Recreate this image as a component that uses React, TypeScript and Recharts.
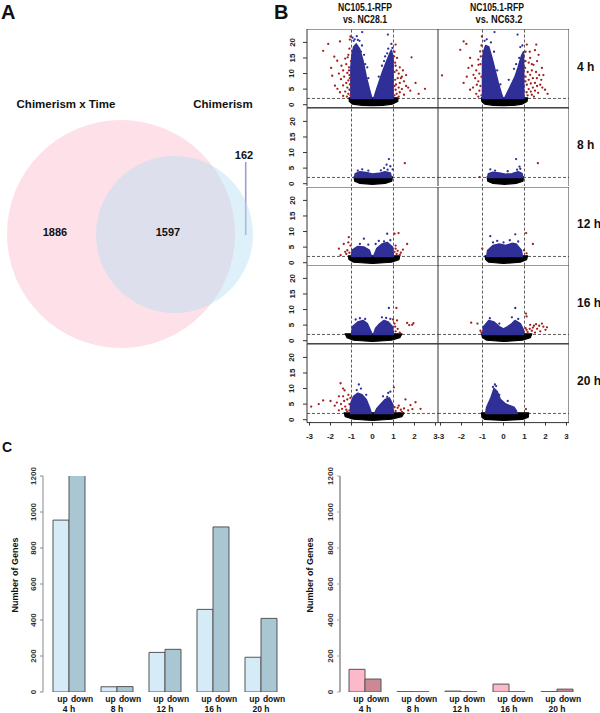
import React from 'react';
import { ScatterChart, Scatter, XAxis, YAxis, ReferenceLine, ReferenceArea, BarChart, Bar } from 'recharts';

const FONT = '"Liberation Sans", Arial, Helvetica, sans-serif';

// ---------- Panel A: Venn ----------
const vennSets = ['Chimerism x Time', 'Chimerism'];
const vennCenterX = [121, 174.5];
const vennCenterY = [234, 234.5];
const vennRadius = [114, 78.5];
const vennCounts = ['1886', '1597', '162'];

// ---------- Panel C: bars ----------
const timePoints = ['4 h', '8 h', '12 h', '16 h', '20 h'];
const leftUp = [955, 29, 220, 459, 193];
const leftDown = [1205, 30, 237, 917, 409];
const rightUp = [126, 2, 5, 44, 2];
const rightDown = [72, 1, 1, 1, 16];
const barTicks = [0, 200, 400, 600, 800, 1000, 1200];

// ---------- Panel B: volcano plots ----------
const rowLabels = ['4 h', '8 h', '12 h', '16 h', '20 h'];
const colTitles = [['NC105.1-RFP', 'vs. NC28.1'], ['NC105.1-RFP', 'vs. NC63.2']];
const xTicks = [-3, -2, -1, 0, 1, 2, 3];
const yTicks = [0, 5, 10, 15, 20];
const foldCut = [-1, 1];
const pCut = 2;

type P = [number, number];

const v4aBlack: P[] = [[-1.12,2.2],[1.22,2.2],[1.2,1.0],[0.95,0.2],[0.5,-0.2],[0,-0.3],[-0.5,-0.2],[-0.95,0.2],[-1.1,1.0]];
const v4aBlueL: P[] = [[-1.03,2],[-1.03,12],[-0.98,16],[-0.9,18.5],[-0.78,19.5],[-0.62,18],[-0.45,14],[-0.3,9],[-0.15,5],[-0.03,2]];
const v4aBlueR: P[] = [[0.06,2],[0.2,5],[0.35,8],[0.5,11],[0.65,13.5],[0.8,16],[0.9,17.5],[0.98,15],[0.98,2]];
const v4aBlueDots: P[] = [[-0.85,21],[-0.75,22],[-0.49,23.3],[-0.62,20.5],[-0.9,20.5],[-0.95,21.5],[-0.7,20.8],[-0.5,19],[0.73,22.5],[0.9,19.5],[0.75,18],[0.95,18.2],[-0.4,16],[-0.25,12],[0.55,14],[0.7,16.5],[-0.35,13],[-0.2,8.5],[0.3,9],[0.45,12.5],[0.6,15.5],[-0.55,17]];
const v4aRed: P[] = [[-2.35,17.3],[-2.11,19.5],[-1.55,20.3],[-1.82,15.4],[-1.68,14.1],[-1.97,11.8],[-1.48,12.5],[-1.92,9.3],[-1.79,6.1],[-1.67,5.1],[-1.05,21.9],[-1.08,20.9],[-1.1,18],[-1.15,16],[-1.3,14.8],[-1.25,13],[-1.12,12],[-1.4,11],[-1.2,10.2],[-1.1,9.5],[-1.35,9],[-1.5,8.2],[-1.15,7.8],[-1.25,7],[-1.08,6.5],[-1.4,6.2],[-1.2,5.5],[-1.1,4.8],[-1.3,4.2],[-1.55,4],[-1.15,3.5],[-1.05,3],[-1.22,2.6],[-1.4,2.8],[-1.08,8.5],[-1.12,11],[-1.6,10],[-1.03,14],[-1.18,15.2],
  [1.1,19.3],[1.17,15],[1.86,15.2],[2.05,7],[2.5,5.1],[1.3,12],[1.05,17],[1.08,13.5],[1.15,11],[1.25,10],[1.05,10.5],[1.4,9],[1.2,8.5],[1.08,8],[1.5,7.5],[1.3,7],[1.12,6.5],[1.05,6],[1.6,6],[1.25,5.5],[1.4,5],[1.1,4.8],[1.8,4.5],[1.3,4],[1.15,3.5],[1.5,3.2],[1.05,3],[1.25,2.6],[2.2,3.5],[1.7,5.5],[1.35,8.5],[1.6,9.5],[1.45,11],[1.1,12.5],[1.03,15.5]];

const v4bBlack: P[] = [[-1.05,2.2],[1.15,2.2],[1.12,1.0],[0.9,0.2],[0.5,-0.2],[0,-0.3],[-0.5,-0.2],[-0.9,0.2],[-1.03,1.0]];
const v4bBlueL: P[] = [[-1,2],[-1,14],[-0.95,17],[-0.85,19],[-0.7,18.5],[-0.55,15],[-0.4,11],[-0.25,7],[-0.1,3.5],[-0.02,2]];
const v4bBlueR: P[] = [[0.05,2],[0.3,5.5],[0.55,9],[0.7,12],[0.85,15.5],[0.95,17],[0.97,2]];
const v4bBlueDots: P[] = [[-0.43,23.3],[-0.8,21],[-0.9,20.5],[-0.6,20],[0.67,22.5],[0.8,18.5],[0.9,19],[-0.45,17],[0.6,13],[-0.3,11],[-0.15,6.5],[0.25,8],[0.5,11.5],[0.75,15]];
const v4bRed: P[] = [[-2.93,9.4],[-1.9,20.3],[-1.77,19.5],[-2.06,17.6],[-1.59,15],[-1.67,11.8],[-1.43,9.6],[-1.9,7],[-1.59,4.8],[-1.27,6.4],[-1.19,12.8],[-1.11,17.1],[-1.03,21.9],[-1.05,19],[-1.2,14.5],[-1.1,13],[-1.3,11],[-1.15,10],[-1.05,9],[-1.35,8.5],[-1.2,7.5],[-1.1,6],[-1.45,5.5],[-1.15,4.5],[-1.3,3.5],[-1.05,3],[-1.2,2.6],[-1.75,9],[-1.5,12.5],[-1.08,15.5],
  [1.11,19.3],[1.56,19.3],[1.67,16],[1.27,15],[1.43,12.8],[1.83,11.8],[1.27,9.6],[1.59,8.5],[1.98,4.8],[1.75,6.4],[1.11,6.4],[1.03,11.8],[1.35,3.2],[1.05,17],[1.5,17.5],[1.2,13.5],[1.6,14],[1.05,14],[1.35,11],[1.15,10.5],[1.55,10.5],[1.7,9.5],[1.05,9],[1.4,8.5],[1.2,8],[1.8,8],[1.5,7],[1.3,6.8],[1.05,7.5],[1.6,6],[1.4,5.5],[1.2,5],[1.85,5.5],[1.5,4.5],[1.1,4],[1.3,4.2],[1.65,3.8],[1.15,3],[1.45,2.6],[2.1,3.5],[1.9,9.5],[1.35,13],[1.25,17]];

const v8aBlack: P[] = [[-0.88,2.2],[0.95,2.2],[0.92,0.8],[0.6,0.1],[0,-0.2],[-0.6,0.1],[-0.85,0.8]];
const v8aBlue: P[] = [[-0.85,2],[-0.82,3.2],[-0.6,3.8],[-0.3,3.6],[0,3.1],[0.3,3.3],[0.6,3.8],[0.85,3.4],[0.9,2]];
const v8aBlueDots: P[] = [[0.78,7.9],[0.67,6.1],[0.96,4.6],[0.55,5],[-0.49,4.6],[-0.7,4.2],[0.85,5.6],[0.4,4.3],[-0.2,4.2],[0.72,4.5]];
const v8aRed: P[] = [[1.54,6.6]];

const v8bBlack: P[] = [[-0.78,2.2],[0.95,2.2],[0.93,0.8],[0.6,0.1],[0.05,-0.2],[-0.5,0.1],[-0.75,0.8]];
const v8bBlue: P[] = [[-0.75,2],[-0.72,3.2],[-0.5,3.7],[-0.2,3.4],[0.1,3.0],[0.4,3.2],[0.7,3.8],[0.88,3.3],[0.92,2]];
const v8bBlueDots: P[] = [[0.6,7.9],[0.76,5.5],[0.8,4.8],[-0.63,4.6],[-0.4,4.2],[0.65,4.5],[0.2,4]];
const v8bRed: P[] = [[1.64,6.6],[-1.14,2.1]];

const v12aBlack: P[] = [[-1.15,2.2],[1.3,2.2],[1.26,1],[0.9,0.15],[0,-0.25],[-0.9,0.15],[-1.12,1]];
const v12aBlueL: P[] = [[-1,2],[-0.97,4],[-0.7,5.2],[-0.4,5],[-0.15,4],[-0.05,2]];
const v12aBlueR: P[] = [[0.05,2],[0.2,4.5],[0.45,6],[0.7,6.5],[0.95,5],[1,2]];
const v12aBlueDots: P[] = [[-0.41,7.7],[0.7,9.3],[0.55,6.8],[0.3,7],[-0.6,6],[0.85,7.2],[-0.2,5.8],[0.15,6]];
const v12aRed: P[] = [[-1.6,4.5],[-1.52,2.4],[-1.37,6],[-1.13,8.2],[-1.2,4],[-1.1,3.2],[-1.25,2.8],[-1.05,5.5],[-1.15,6.5],[-1.3,3.5],[1.05,9.3],[1.24,9.5],[1.65,6],[1.1,4.5],[1.2,3.8],[1.35,3.2],[1.15,2.8],[1.3,2.5],[1.05,3.5],[1.45,4.2],[1.1,5.5]];

const v12bBlack: P[] = [[-0.88,2.2],[1.15,2.2],[1.1,1],[0.8,0.15],[0,-0.25],[-0.7,0.15],[-0.85,1]];
const v12bBlue: P[] = [[-0.8,2],[-0.75,4],[-0.5,5.5],[-0.2,6],[0.1,5.5],[0.4,6.2],[0.6,6],[0.85,4],[0.9,2]];
const v12bBlueDots: P[] = [[-0.63,8.5],[0.56,9.1],[-0.3,7],[0.3,7.2],[0.7,6.8],[-0.5,6.5],[0,6.5]];
const v12bRed: P[] = [[1.08,9.5],[1.4,6],[0.98,4],[-1.01,4.5],[1.1,3]];

const v16aBlack: P[] = [[-1.3,2.2],[1.4,2.2],[1.3,1],[0.9,0.15],[0,-0.25],[-0.9,0.15],[-1.22,1]];
const v16aBlueL: P[] = [[-1,2],[-0.95,4.5],[-0.7,6],[-0.45,6.5],[-0.25,5.5],[-0.08,3],[-0.03,2]];
const v16aBlueR: P[] = [[0.05,2],[0.15,4],[0.35,5.5],[0.55,6.5],[0.75,6],[0.95,4.5],[1,2]];
const v16aBlueDots: P[] = [[0.78,10.5],[0.45,7.5],[-0.6,7.2],[-0.35,7],[0.65,7.3],[0.85,7],[-0.8,6.8]];
const v16aRed: P[] = [[1.14,10.5],[0.98,6.8],[1.17,6.5],[1.65,5.7],[1.75,5],[1.89,5.1],[1.95,5.6],[1.08,4.5],[1.2,3.8],[1.1,3],[1.3,2.6],[1.05,5.5]];

const v16bBlack: P[] = [[-1.05,2.2],[1.35,2.2],[1.28,1],[0.9,0.15],[0,-0.25],[-0.8,0.15],[-1.0,1]];
const v16bBlue: P[] = [[-1,2],[-0.95,4.5],[-0.7,6.5],[-0.45,6],[-0.2,4.5],[0,3.8],[0.2,4.5],[0.4,5.5],[0.55,6.5],[0.8,5.5],[0.95,3.5],[0.95,2]];
const v16bBlueDots: P[] = [[0.56,10.5],[0.4,7.5],[-0.65,7.2],[0.7,7],[-0.2,5.5]];
const v16bRed: P[] = [[1.07,8.7],[1.1,7.8],[1.27,5.1],[1.45,4.8],[1.83,5.5],[1.9,4.5],[2.07,4.3],[1.6,3.8],[1.35,3.2],[1.15,2.8],[1.5,2.6],[1.05,4],[1.7,4.8],[1.25,3.8],[1.55,5.3],[2.0,3.5],[1.1,3.5],[1.4,4.2],[1.75,3],[-1.54,5.8],[-1.24,5.5],[-1.1,3.2],[-1.05,2.6]];

const v20aBlack: P[] = [[-1.35,2.2],[1.5,2.2],[1.4,1],[0.9,0.15],[0,-0.25],[-0.9,0.15],[-1.3,1]];
const v20aBlueL: P[] = [[-1.05,2],[-1.05,5],[-0.9,7.5],[-0.7,8.5],[-0.5,8],[-0.3,6.5],[-0.15,4],[-0.05,2]];
const v20aBlueR: P[] = [[0.1,2],[0.2,3.5],[0.4,5],[0.6,6.5],[0.8,7],[0.95,5],[1,2]];
const v20aBlueDots: P[] = [[-0.65,11.3],[0.7,7.3],[0.75,8.6],[-0.55,10],[-0.75,9.5],[0.5,7.5],[-0.3,8],[0.85,9]];
const v20aRed: P[] = [[-1.52,11.7],[-1.4,10],[-1.33,9.4],[-1.6,7.5],[-2,6],[-2.35,6.2],[-2.56,5],[-2.92,4.2],[-1.7,5.5],[-1.5,5],[-1.3,4.2],[-1.2,6.5],[-1.15,8],[-1.1,5],[-1.35,6],[-1.25,3.2],[-1.1,3],[-1.45,3.5],[-1.8,4.5],[-1.2,2.6],[-1.05,7],[-1.4,7.5],[-1.6,3],
  [1.02,10.4],[1.81,4.7],[2.05,5.6],[2.29,3.5],[1.57,6.5],[1.2,3.8],[1.35,3.2],[1.1,2.8],[1.5,3.6],[1.7,3],[1.25,4.5],[1.05,4],[1.9,3.4],[1.4,2.5]];

const v20bBlack: P[] = [[-1.05,2.2],[1.2,2.2],[1.18,0.8],[0.9,0.1],[0,-0.25],[-0.9,0.1],[-1.03,0.8]];
const v20bBlue: P[] = [[-0.85,2],[-0.8,4],[-0.6,7],[-0.45,10],[-0.3,9],[-0.15,6.5],[0.1,5],[0.3,4.5],[0.5,4],[0.6,3],[0.65,2]];
const v20bBlueDots: P[] = [[-0.41,11.3],[-0.35,10.8],[-0.5,10.5],[-0.2,8],[0.2,6]];
const v20bRed: P[] = [[1.07,3.4]];

// ---------- layout / styles ----------
const PW = 131;
const PH = 78.6;
const GRID_LEFT = 306.8;
const GRID_TOP = 29.3;
const X_DOMAIN: [number, number] = [-3.12, 3.12];
const Y_DOMAIN: [number, number] = [-0.93, 24.3];
const BLUE = '#2f2f97';
const RED = '#a3201d';
const BLACK = '#000000';

const toPts = (a: P[]) => a.map(([x, y]) => ({ x, y }));

const panels = [
  { row: 0, col: 0, black: v4aBlack, blue: [v4aBlueL, v4aBlueR], dots: v4aBlueDots, red: v4aRed },
  { row: 0, col: 1, black: v4bBlack, blue: [v4bBlueL, v4bBlueR], dots: v4bBlueDots, red: v4bRed },
  { row: 1, col: 0, black: v8aBlack, blue: [v8aBlue], dots: v8aBlueDots, red: v8aRed },
  { row: 1, col: 1, black: v8bBlack, blue: [v8bBlue], dots: v8bBlueDots, red: v8bRed },
  { row: 2, col: 0, black: v12aBlack, blue: [v12aBlueL, v12aBlueR], dots: v12aBlueDots, red: v12aRed },
  { row: 2, col: 1, black: v12bBlack, blue: [v12bBlue], dots: v12bBlueDots, red: v12bRed },
  { row: 3, col: 0, black: v16aBlack, blue: [v16aBlueL, v16aBlueR], dots: v16aBlueDots, red: v16aRed },
  { row: 3, col: 1, black: v16bBlack, blue: [v16bBlue], dots: v16bBlueDots, red: v16bRed },
  { row: 4, col: 0, black: v20aBlack, blue: [v20aBlueL, v20aBlueR], dots: v20aBlueDots, red: v20aRed },
  { row: 4, col: 1, black: v20bBlack, blue: [v20bBlue], dots: v20bBlueDots, red: v20bRed },
];

const polyFill = (color: string, sw: number) => (p: any) => (
  <polygon
    points={(p.points || []).map((q: any) => `${q.x},${q.y}`).join(' ')}
    fill={color}
    stroke={color}
    strokeWidth={sw}
    strokeLinejoin="round"
  />
);
const noShape = () => <g />;
const dot = (color: string) => (p: any) => <circle cx={p.cx} cy={p.cy} r={1.15} fill={color} />;

const VYTick = (props: any) => {
  const { y, payload } = props;
  return (
    <text x={15} y={y} transform={`rotate(-90 15 ${y})`} textAnchor="middle" dominantBaseline="central"
      fontSize={8} fontWeight={700} fill="#222" fontFamily={FONT}>{payload.value}</text>
  );
};
const VXTick = (props: any) => {
  const { x, payload } = props;
  return (
    <text x={x} y={PH + 16.5} textAnchor="middle" fontSize={8} fontWeight={700} fill="#222" fontFamily={FONT}>{payload.value}</text>
  );
};

function Volcano({ cfg }: { cfg: any }) {
  const showY = cfg.col === 0;
  const showX = cfg.row === 4;
  const yW = showY ? 30 : 0;
  const xH = showX ? 20 : 0;
  const left = GRID_LEFT + cfg.col * PW - yW;
  const top = GRID_TOP + cfg.row * PH;
  return (
    <div style={{ position: 'absolute', left, top }}>
      <ScatterChart width={PW + yW} height={PH + xH} margin={{ top: 0, right: 0, bottom: 0, left: 0 }}>
        <XAxis type="number" dataKey="x" domain={X_DOMAIN} allowDataOverflow hide={!showX} height={xH}
          ticks={xTicks} interval={0} tickSize={3} axisLine={false} tickLine={{ stroke: '#333' }} tick={VXTick} />
        <YAxis type="number" dataKey="y" domain={Y_DOMAIN} allowDataOverflow hide={!showY} width={yW}
          ticks={yTicks} interval={0} tickSize={4} axisLine={false} tickLine={{ stroke: '#333' }} tick={VYTick} />
        <Scatter data={toPts(cfg.black)} line={polyFill(BLACK, 1.2)} shape={noShape} isAnimationActive={false} />
        {cfg.blue.map((b: P[], i: number) => (
          <Scatter key={'b' + i} data={toPts(b)} line={polyFill(BLUE, 1.6)} shape={noShape} isAnimationActive={false} />
        ))}
        <Scatter data={toPts(cfg.dots)} shape={dot(BLUE)} isAnimationActive={false} />
        <Scatter data={toPts(cfg.red)} shape={dot(RED)} isAnimationActive={false} />
        <ReferenceLine x={foldCut[0]} stroke="#333" strokeDasharray="3 2" strokeWidth={0.8} />
        <ReferenceLine x={foldCut[1]} stroke="#333" strokeDasharray="3 2" strokeWidth={0.8} />
        <ReferenceLine y={pCut} stroke="#333" strokeDasharray="3 2" strokeWidth={0.8} />
        <ReferenceArea x1={X_DOMAIN[0]} x2={X_DOMAIN[1]} y1={Y_DOMAIN[0]} y2={Y_DOMAIN[1]}
          fill="none" fillOpacity={0} stroke="#333" strokeWidth={1} ifOverflow="visible" />
      </ScatterChart>
    </div>
  );
}

// ---------- Venn ----------
const vennData = vennSets.map((s, i) => ({ set: s, x: vennCenterX[i], y: vennCenterY[i], r: vennRadius[i] }));
const vennStyle: Record<string, { fill: string; opacity: number }> = {
  'Chimerism x Time': { fill: '#fde0e8', opacity: 1 },
  'Chimerism': { fill: '#b6def2', opacity: 0.45 },
};
const VennCircle = (p: any) => {
  const st = vennStyle[p.payload.set];
  return <circle cx={p.cx} cy={p.cy} r={p.payload.r} fill={st.fill} fillOpacity={st.opacity} />;
};

function Venn() {
  return (
    <div style={{ position: 'absolute', left: 0, top: 0 }}>
      <ScatterChart width={300} height={360} margin={{ top: 0, right: 0, bottom: 0, left: 0 }}>
        <XAxis type="number" dataKey="x" domain={[0, 300]} hide allowDataOverflow />
        <YAxis type="number" dataKey="y" domain={[0, 360]} reversed hide allowDataOverflow />
        <Scatter data={vennData} shape={VennCircle} isAnimationActive={false} />
        <ReferenceLine segment={[{ x: 245.7, y: 162 }, { x: 245.7, y: 235 }]} stroke="#9c9ed0" strokeWidth={1.6} />
      </ScatterChart>
    </div>
  );
}

// ---------- Bars ----------
const BarYTick = (axisX: number) => (props: any) => {
  const { y, payload } = props;
  const cx = axisX - 10;
  return (
    <text x={cx} y={y} transform={`rotate(-90 ${cx} ${y})`} textAnchor="middle" dominantBaseline="central"
      fontSize={8} fontWeight={700} fill="#333" fontFamily={FONT}>{payload.value}</text>
  );
};
const BarXTick = (props: any) => {
  const { x, payload } = props;
  const common = { fontSize: 8.5, fontWeight: 700, fill: '#111', fontFamily: FONT, textAnchor: 'middle' as const };
  return (
    <g>
      <text x={x - 6.5} y={242} {...common}>up</text>
      <text x={x + 13} y={242} {...common}>down</text>
      <text x={x} y={251.5} {...common}>{payload.value}</text>
    </g>
  );
};

function GeneBars({ left, axisW, padLeft, up, down, upColor, downColor, axisColor, axisWidth }: any) {
  const data = timePoints.map((t, i) => ({ t, up: up[i], down: down[i] }));
  return (
    <div style={{ position: 'absolute', left, top: 460 }}>
      <BarChart width={axisW + 240 + padLeft + 8} height={253} data={data}
        margin={{ top: 16, right: 8, bottom: 0, left: 0 }} barCategoryGap={8} barGap={0}>
        <XAxis dataKey="t" axisLine={false} tickLine={false} height={21} interval={0}
          padding={{ left: padLeft, right: 0 }} tick={BarXTick} />
        <YAxis width={axisW} domain={[0, 1200]} ticks={barTicks} interval={0} allowDataOverflow tickSize={3}
          axisLine={{ stroke: axisColor, strokeWidth: axisWidth }} tickLine={{ stroke: axisColor }} tick={BarYTick(axisW)} />
        <Bar dataKey="up" fill={upColor} stroke="#555" strokeWidth={1} isAnimationActive={false} />
        <Bar dataKey="down" fill={downColor} stroke="#555" strokeWidth={1} isAnimationActive={false} />
      </BarChart>
    </div>
  );
}

// ---------- text overlay ----------
function Labels() {
  const b = { fontFamily: FONT, fontWeight: 700, fill: '#111' } as const;
  return (
    <svg width={600} height={713} style={{ position: 'absolute', left: 0, top: 0, pointerEvents: 'none' }}>
      <text x={1} y={18.5} fontSize={20} {...b}>A</text>
      <text x={274} y={18.5} fontSize={20} {...b}>B</text>
      <text x={2} y={452} fontSize={14} {...b}>C</text>

      <text x={66} y={108} fontSize={11.5} textAnchor="middle" {...b}>{vennSets[0]}</text>
      <text x={223} y={108} fontSize={11.5} textAnchor="middle" {...b}>{vennSets[1]}</text>
      <text x={55} y={235.5} fontSize={11} textAnchor="middle" {...b}>{vennCounts[0]}</text>
      <text x={168} y={235.5} fontSize={11} textAnchor="middle" {...b}>{vennCounts[1]}</text>
      <text x={244} y={159} fontSize={11} textAnchor="middle" {...b}>{vennCounts[2]}</text>

      {colTitles.map((t, i) => (
        <g key={i}>
          <text x={i === 0 ? 365 : 497} y={10.5} fontSize={10.5} textAnchor="middle" textLength={54} lengthAdjust="spacingAndGlyphs" {...b}>{t[0]}</text>
          <text x={i === 0 ? 365 : 499} y={22.5} fontSize={10.5} textAnchor="middle" textLength={i === 0 ? 44 : 47} lengthAdjust="spacingAndGlyphs" {...b}>{t[1]}</text>
        </g>
      ))}
      {rowLabels.map((r, i) => (
        <text key={r} x={577} y={GRID_TOP + i * PH + 41.5} fontSize={12} {...b}>{r}</text>
      ))}

      <text x={15} y={575} transform="rotate(-90 15 575)" fontSize={9} textAnchor="middle" dominantBaseline="central" {...b}>Number of Genes</text>
      <text x={310} y={575} transform="rotate(-90 310 575)" fontSize={9} textAnchor="middle" dominantBaseline="central" {...b}>Number of Genes</text>
    </svg>
  );
}

export default function App() {
  return (
    <div style={{ position: 'absolute', left: 0, top: 0, width: 600, height: 713, background: '#fff', overflow: 'hidden', fontFamily: FONT }}>
      <Venn />
      {panels.map((p, i) => <Volcano key={i} cfg={p} />)}
      <GeneBars left={0} axisW={43} padLeft={2} up={leftUp} down={leftDown}
        upColor="#d6ebf8" downColor="#a9c6d3" axisColor="#888" axisWidth={1} />
      <GeneBars left={300} axisW={40} padLeft={1} up={rightUp} down={rightDown}
        upColor="#fbb9c9" downColor="#cc8894" axisColor="#aaa" axisWidth={2} />
      <Labels />
    </div>
  );
}
